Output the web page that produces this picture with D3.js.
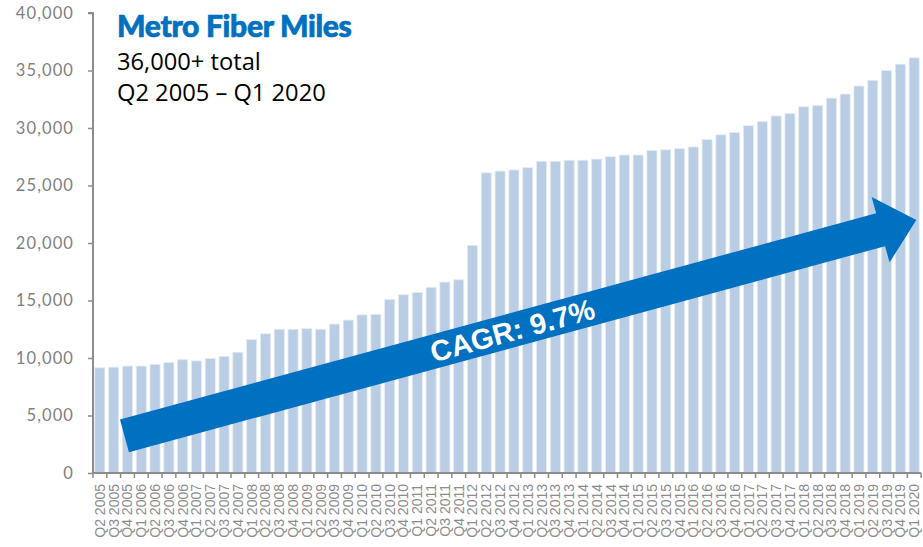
<!DOCTYPE html>
<html>
<head>
<meta charset="utf-8">
<script src="https://d3js.org/d3.v7.min.js"></script>
<style>
  body { margin: 0; background: #fff; }
  svg { display: block; }
</style>
</head>
<body>
<svg id="chart" width="923" height="547"></svg>
<script>
// quarters on the x axis
var quarters = [
  "Q2 2005", "Q3 2005", "Q4 2005", "Q1 2006", "Q2 2006", "Q3 2006", "Q4 2006",
  "Q1 2007", "Q2 2007", "Q3 2007", "Q4 2007", "Q1 2008", "Q2 2008", "Q3 2008",
  "Q4 2008", "Q1 2009", "Q2 2009", "Q3 2009", "Q4 2009", "Q1 2010", "Q2 2010",
  "Q3 2010", "Q4 2010", "Q1 2011", "Q2 2011", "Q3 2011", "Q4 2011", "Q1 2012",
  "Q2 2012", "Q3 2012", "Q4 2012", "Q1 2013", "Q2 2013", "Q3 2013", "Q4 2013",
  "Q1 2014", "Q2 2014", "Q3 2014", "Q4 2014", "Q1 2015", "Q2 2015", "Q3 2015",
  "Q4 2015", "Q1 2016", "Q2 2016", "Q3 2016", "Q4 2016", "Q1 2017", "Q2 2017",
  "Q3 2017", "Q4 2017", "Q1 2018", "Q2 2018", "Q3 2018", "Q4 2018", "Q1 2019",
  "Q2 2019", "Q3 2019", "Q4 2019", "Q1 2020"
];

// metro fiber miles per quarter
var miles = [
  9150, 9200, 9300, 9300, 9450, 9600, 9850,
  9750, 9950, 10150, 10500, 11600, 12100, 12500,
  12500, 12550, 12500, 12950, 13300, 13750, 13800,
  15100, 15500, 15700, 16150, 16600, 16800, 19800,
  26100, 26250, 26350, 26550, 27100, 27100, 27200,
  27200, 27300, 27500, 27650, 27650, 28050, 28100,
  28200, 28350, 29000, 29400, 29600, 30200, 30550,
  31050, 31250, 31850, 31950, 32600, 32950, 33650,
  34150, 35000, 35550, 36100
];

var yTicks = [0, 5000, 10000, 15000, 20000, 25000, 30000, 35000, 40000];

// arrow annotation, in data units (band index, miles)
var arrowFrom = [2.28, 3230];
var arrowTo = [59.65, 22000];
var cagrLabel = "CAGR: 9.7%";

var titleText = "Metro Fiber Miles";
var subLines = ["36,000+ total", "Q2 2005 \u2013 Q1 2020"];

var svg = d3.select("#chart");
// note: "top" is taken by window.top, so use other names
var plotLeft = 93, plotRight = 921, plotTop = 13, plotBottom = 473;

var xScale = d3.scaleBand()
  .domain(quarters)
  .range([plotLeft, plotRight])
  .paddingInner(0.27)
  .paddingOuter(0.13);

var yScale = d3.scaleLinear()
  .domain([0, 40000])
  .range([plotBottom, plotTop]);

// bars
svg.append("g").selectAll("rect")
  .data(miles)
  .enter()
  .append("rect")
  .attr("x", (d, i) => xScale(quarters[i]))
  .attr("y", d => yScale(d))
  .attr("width", xScale.bandwidth())
  .attr("height", d => plotBottom - yScale(d))
  .attr("fill", "#b9cde5")
  .attr("stroke", "#e4ecf5")
  .attr("stroke-width", 0.8);

// y axis
var yAxis = svg.append("g")
  .attr("transform", `translate(${plotLeft},0)`)
  .call(d3.axisLeft(yScale).tickValues(yTicks).tickSize(5).tickPadding(14)
    .tickFormat(d3.format(",")));
yAxis.select(".domain").attr("stroke", "#8c8c8c").attr("stroke-width", 2)
  .attr("d", `M-5,${plotTop}H0V${plotBottom}`);
yAxis.selectAll(".tick line").attr("stroke", "#8c8c8c").attr("stroke-width", 1.5);
yAxis.selectAll(".tick text")
  .attr("fill", "#7f7f7f")
  .style("font-family", "Lato, sans-serif")
  .style("font-size", "16.5px")
  .style("letter-spacing", "1.1px");

// x axis: ticks sit between the bands
var xAxis = svg.append("g")
  .attr("transform", `translate(0,${plotBottom})`);
xAxis.append("line")
  .attr("x1", plotLeft).attr("x2", plotRight)
  .attr("stroke", "#8c8c8c").attr("stroke-width", 2);
var step = xScale.step();
xAxis.selectAll(".xt")
  .data(d3.range(quarters.length + 1))
  .enter()
  .append("line")
  .attr("x1", i => plotLeft + i * step)
  .attr("x2", i => plotLeft + i * step)
  .attr("y1", 0).attr("y2", 5)
  .attr("stroke", "#8c8c8c").attr("stroke-width", 1.5);
xAxis.selectAll(".xl")
  .data(quarters)
  .enter()
  .append("text")
  .attr("transform", d => `translate(${xScale(d) + xScale.bandwidth() / 2 + 5},11) rotate(-90)`)
  .attr("text-anchor", "end")
  .attr("fill", "#8c8c8c")
  .style("font-family", "'Liberation Sans', Arial, sans-serif")
  .style("font-size", "14px")
  .text(d => d);

// CAGR arrow
var p0 = [plotLeft + arrowFrom[0] * step, yScale(arrowFrom[1])];
var p1 = [plotLeft + arrowTo[0] * step, yScale(arrowTo[1])];
var len = Math.hypot(p1[0] - p0[0], p1[1] - p0[1]);
var ang = Math.atan2(p1[1] - p0[1], p1[0] - p0[0]) * 180 / Math.PI;
var shaft = 17, head = 34, headLen = 37;
var arrow = svg.append("g")
  .attr("transform", `translate(${p0[0]},${p0[1]}) rotate(${ang})`);
arrow.append("path")
  .attr("d", `M0,${-shaft}L${len - headLen},${-shaft}L${len - headLen},${-head}L${len},0` +
    `L${len - headLen},${head}L${len - headLen},${shaft}L0,${shaft}Z`)
  .attr("fill", "#0070c0");
arrow.append("text")
  .attr("x", 402)
  .attr("y", 10.5)
  .attr("text-anchor", "middle")
  .attr("fill", "#fff")
  .style("font-family", "'Liberation Sans', Arial, sans-serif")
  .style("font-weight", "bold")
  .style("font-size", "29px")
  .text(cagrLabel);

// title block
svg.append("text")
  .attr("x", 117)
  .attr("y", 37)
  .attr("fill", "#0070c0")
  .attr("stroke", "#0070c0")
  .attr("stroke-width", 0.7)
  .style("font-family", "Lato, sans-serif")
  .style("font-weight", "900")
  .style("font-size", "30px")
  .style("letter-spacing", "-0.3px")
  .text(titleText);

svg.selectAll(".sub")
  .data(subLines)
  .enter()
  .append("text")
  .attr("x", 117)
  .attr("y", (d, i) => 70 + i * 31)
  .attr("fill", "#000")
  .style("font-family", "'Open Sans', sans-serif")
  .style("font-size", "23.7px")
  .text(d => d);
</script>
</body>
</html>
